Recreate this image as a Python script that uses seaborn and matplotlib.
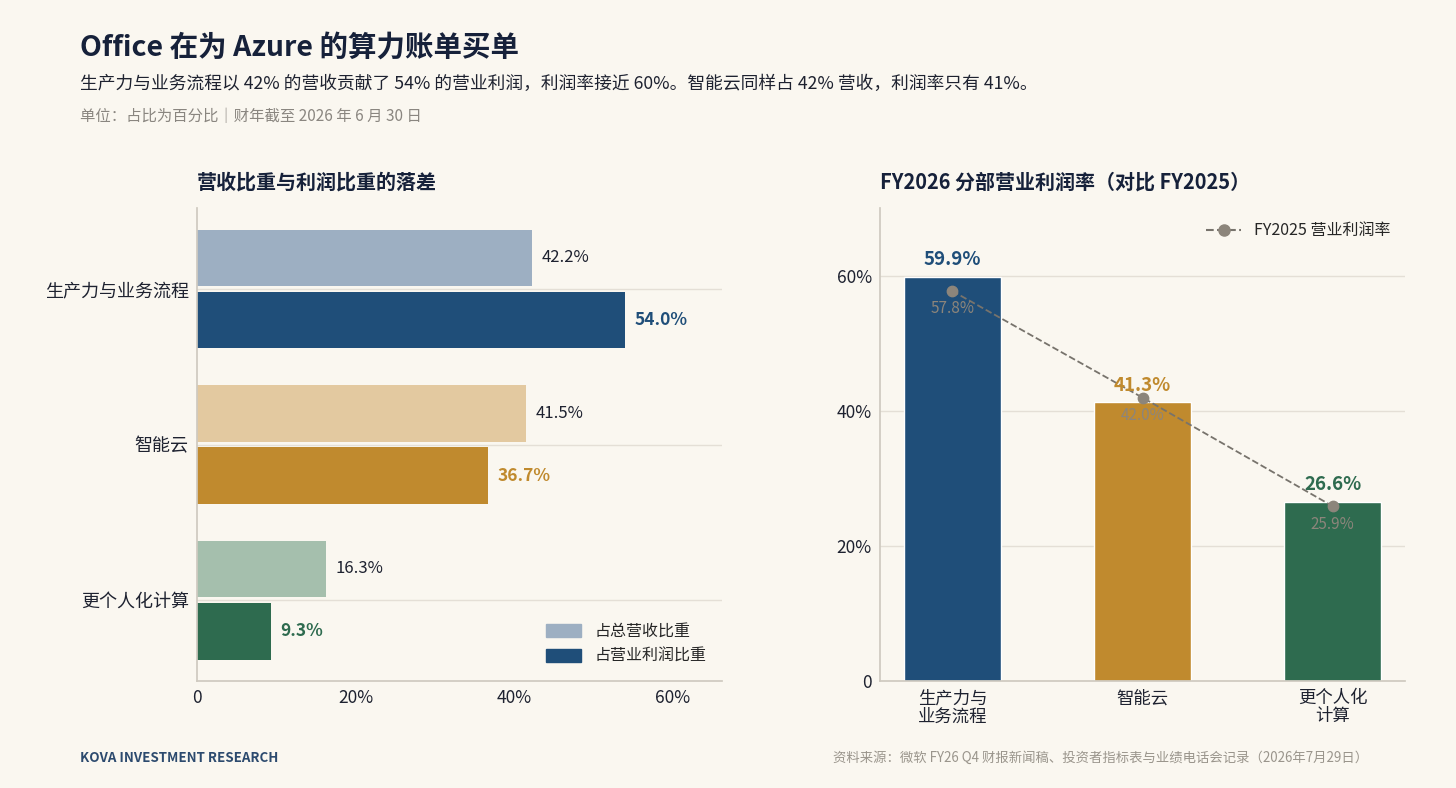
import pandas as pd
import numpy as np
import matplotlib.pyplot as plt
import seaborn as sns
from matplotlib.patches import Patch
from matplotlib.lines import Line2D

sns.set_theme(style="white")
plt.rcParams['font.family'] = ['Noto Sans CJK SC', 'DejaVu Sans']

# data
segments = ['生产力与业务流程', '智能云', '更个人化计算']
segment_ticks = ['生产力与\n业务流程', '智能云', '更个人化\n计算']
revenue_share = [42.2, 41.5, 16.3]
profit_share = [54.0, 36.7, 9.3]
margin_fy26 = [59.9, 41.3, 26.6]
margin_fy25 = [57.8, 42.0, 25.9]

# colours
BG = '#FAF7F0'
dark = ['#1F4E79', '#C08A2E', '#2E6B4F']
light = ['#9DAFC2', '#E3C9A0', '#A5BFAD']
GRID = '#E4DFD6'
SPINE = '#CFCAC0'
TXT = '#1E2230'
GRAY = '#8C857B'

fig = plt.figure(figsize=(14.56, 7.88), dpi=100, facecolor=BG)
ax1 = fig.add_axes([0.1353, 0.1358, 0.3606, 0.6002])
ax2 = fig.add_axes([0.6044, 0.1358, 0.3606, 0.6002])
for ax in (ax1, ax2):
    ax.set_facecolor(BG)

# ---- left: revenue vs profit share ----
df_left = pd.DataFrame({
    'segment': segments * 2,
    'value': revenue_share + profit_share,
    'metric': ['占总营收比重'] * 3 + ['占营业利润比重'] * 3,
})
sns.barplot(data=df_left, y='segment', x='value', hue='metric', orient='h',
            width=0.8, gap=0.09, legend=False, ax=ax1, saturation=1)

for i, bar in enumerate(ax1.containers[0]):
    bar.set_facecolor(light[i])
    bar.set_edgecolor('none')
    ax1.text(bar.get_width() + 1.2, bar.get_y() + bar.get_height() / 2,
             f'{revenue_share[i]:.1f}%', va='center', ha='left',
             fontsize=12, color=TXT)
for i, bar in enumerate(ax1.containers[1]):
    bar.set_facecolor(dark[i])
    bar.set_edgecolor('none')
    ax1.text(bar.get_width() + 1.2, bar.get_y() + bar.get_height() / 2,
             f'{profit_share[i]:.1f}%', va='center', ha='left',
             fontsize=12.5, color=dark[i], fontweight='bold')

ax1.set_xlim(0, 66.2)
ax1.set_ylim(2.52, -0.52)
ax1.set_xticks([0, 20, 40, 60])
ax1.set_xticklabels(['0', '20%', '40%', '60%'])
ax1.set_xlabel('')
ax1.set_ylabel('')
ax1.grid(axis='y', color=GRID, linewidth=1)
ax1.grid(axis='x', visible=False)
ax1.set_axisbelow(True)
ax1.tick_params(length=0, labelsize=12.5, colors=TXT, pad=6)
ax1.tick_params(axis='y', labelsize=13)
for s in ['top', 'right']:
    ax1.spines[s].set_visible(False)
for s in ['left', 'bottom']:
    ax1.spines[s].set_color(SPINE)
ax1.set_title('营收比重与利润比重的落差', loc='left', fontsize=14.4,
              fontweight='bold', color='#16213A', pad=14)
ax1.legend(handles=[Patch(color=light[0], label='占总营收比重'),
                    Patch(color=dark[0], label='占营业利润比重')],
           loc='lower right', frameon=False, fontsize=11.5,
           handlelength=2.2, handleheight=0.9, borderaxespad=0.6)

# ---- right: operating margin ----
sns.barplot(x=segment_ticks, y=margin_fy26, hue=segment_ticks, palette=dark,
            width=0.51, legend=False, ax=ax2, saturation=1)
sns.pointplot(x=segment_ticks, y=margin_fy25, color=GRAY, linestyles='--',
              markers='o', ax=ax2, markersize=7.5, linewidth=1.3)
for line in ax2.lines:
    line.set_color('#77736C')
    line.set_markerfacecolor(GRAY)
    line.set_markeredgecolor(GRAY)
    line.set_zorder(4)

for i in range(3):
    ax2.text(i, margin_fy26[i] + 1.1, f'{margin_fy26[i]:.1f}%', ha='center',
             va='bottom', fontsize=13.5, fontweight='bold', color=dark[i], zorder=5)
    ax2.text(i, margin_fy25[i] - 1.4, f'{margin_fy25[i]:.1f}%', ha='center',
             va='top', fontsize=11, color=GRAY, zorder=5)

ax2.set_ylim(0, 70.1)
ax2.set_xlim(-0.38, 2.38)
ax2.set_yticks([0, 20, 40, 60])
ax2.set_yticklabels(['0', '20%', '40%', '60%'])
ax2.set_xlabel('')
ax2.set_ylabel('')
ax2.grid(axis='y', color=GRID, linewidth=1)
ax2.set_axisbelow(True)
ax2.tick_params(length=0, labelsize=12.5, colors=TXT, pad=6)
for lab in ax2.get_xticklabels():
    lab.set_linespacing(1.0)
for s in ['top', 'right']:
    ax2.spines[s].set_visible(False)
for s in ['left', 'bottom']:
    ax2.spines[s].set_color(SPINE)
ax2.set_title('FY2026 分部营业利润率（对比 FY2025）', loc='left', fontsize=14.4,
              fontweight='bold', color='#16213A', pad=14)
ax2.legend(handles=[Line2D([], [], color='#77736C', linestyle='--', marker='o',
                           markersize=8, markerfacecolor=GRAY,
                           markeredgecolor=GRAY, label='FY2025 营业利润率')],
           loc='upper right', frameon=False, fontsize=11.5, handlelength=2.2)

# ---- header / footer ----
fig.text(0.055, 0.939, 'Office 在为 Azure 的算力账单买单', fontsize=20.5,
         fontweight='bold', color='#16213A', va='center')
fig.text(0.055, 0.893, '生产力与业务流程以 42% 的营收贡献了 54% 的营业利润，利润率接近 60%。'
         '智能云同样占 42% 营收，利润率只有 41%。', fontsize=12.75, color=TXT, va='center')
fig.text(0.055, 0.852, '单位：占比为百分比｜财年截至 2026 年 6 月 30 日', fontsize=11.1,
         color='#8A8680', va='center')
fig.text(0.055, 0.038, 'KOVA INVESTMENT RESEARCH', fontsize=9.6, fontweight='bold',
         color='#2C4A6E', va='center')
fig.text(0.9396, 0.038, '资料来源：微软 FY26 Q4 财报新闻稿、投资者指标表与业绩电话会记录（2026年7月29日）',
         fontsize=9.6, color='#9A958C', va='center', ha='right')

fig.savefig('out.png', dpi=100, facecolor=BG)
